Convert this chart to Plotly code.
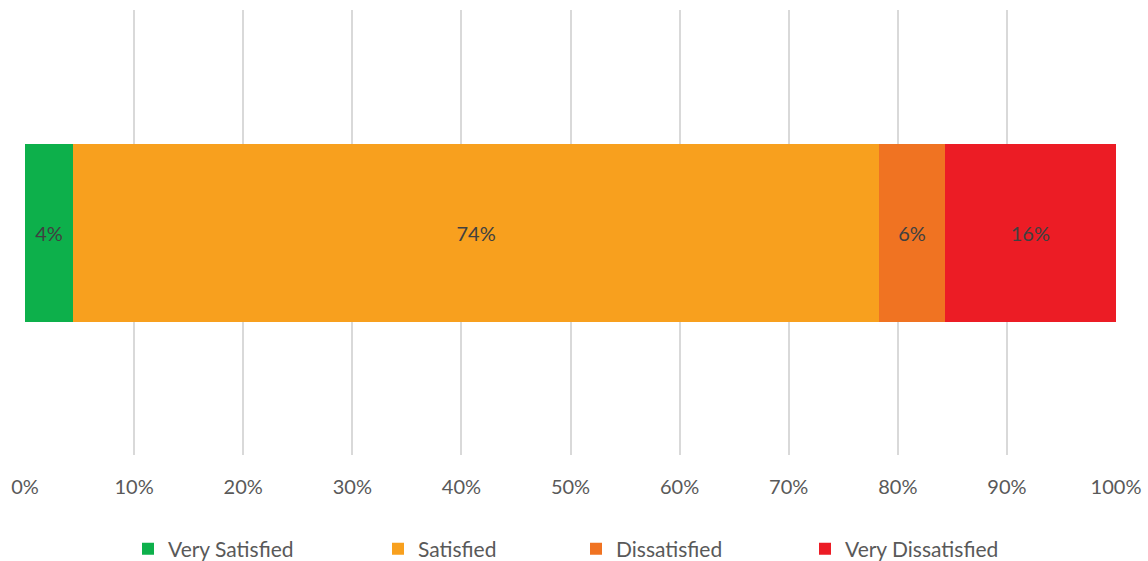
import plotly.graph_objects as go

categories = ["Very Satisfied", "Satisfied", "Dissatisfied", "Very Dissatisfied"]
values = [4.4, 73.9, 6.0, 15.7]
colors = ["#0DB04B", "#F8A01E", "#F07322", "#EC1C25"]
tick_vals = [0, 10, 20, 30, 40, 50, 60, 70, 80, 90, 100]
tick_text = ["0%", "10%", "20%", "30%", "40%", "50%", "60%", "70%", "80%", "90%", "100%"]

FONT = "Lato, 'Open Sans', sans-serif"

fig = go.Figure()
legend_names = ["legend", "legend2", "legend3", "legend4"]
legend_left_px = [128, 378, 576, 805]
for i, (name, v, c) in enumerate(zip(categories, values, colors)):
    fig.add_trace(go.Bar(
        y=["Q"], x=[v], orientation="h", name=name,
        marker=dict(color=c, line=dict(width=0)),
        text=[f"{v:.0f}%"], textposition="inside", insidetextanchor="middle",
        textfont=dict(color="#404040", size=20, family=FONT),
        width=0.4, legend=legend_names[i],
    ))

L, R, T, B = 25, 32, 10, 106
W, H = 1148, 561

layout_legends = {}
for ln, px in zip(legend_names, legend_left_px):
    layout_legends[ln] = dict(
        x=px / W, xanchor="left", xref="container",
        y=(H - 549) / H, yanchor="middle", yref="container",
        orientation="h", font=dict(size=21, color="#595959", family=FONT),
        bgcolor="rgba(0,0,0,0)", itemwidth=30,
    )

fig.update_layout(
    width=W, height=H,
    margin=dict(l=L, r=R, t=T, b=B, autoexpand=False),
    barmode="stack",
    plot_bgcolor="white", paper_bgcolor="white",
    showlegend=True,
    xaxis=dict(range=[0, 100], tickvals=tick_vals, ticktext=tick_text,
               showgrid=True, gridcolor="#D9D9D9", gridwidth=2,
               zeroline=False, showline=False,
               tickfont=dict(size=20, color="#595959", family=FONT),
               ticks="", ticklabelstandoff=18),
    yaxis=dict(showticklabels=False, showgrid=False, zeroline=False,
               range=[-0.5, 0.5]),
    **layout_legends,
)

fig.write_html("out.html")
